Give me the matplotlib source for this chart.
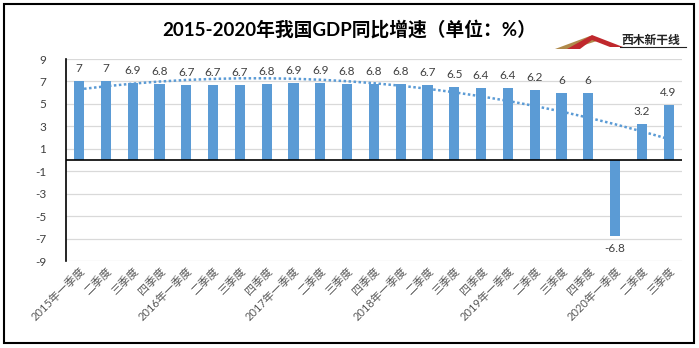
import matplotlib
matplotlib.use("Agg")
import matplotlib.pyplot as plt
from matplotlib.patches import Polygon, Rectangle
from matplotlib.lines import Line2D
import numpy as np

plt.rcParams['font.family'] = ['Lato', 'Noto Sans CJK SC', 'DejaVu Sans']

title = '2015-2020年我国GDP同比增速（单位：%）'
quarters = ['一季度', '二季度', '三季度', '四季度']
years = ['2015', '2016', '2017', '2018', '2019', '2020']
labels = []
for y in years:
    for i, q in enumerate(quarters):
        labels.append(y + '年' + q if i == 0 else q)
labels = labels[:23]
growth = [7, 7, 6.9, 6.8, 6.7, 6.7, 6.7, 6.8, 6.9, 6.9, 6.8, 6.8,
          6.8, 6.7, 6.5, 6.4, 6.4, 6.2, 6, 6, -6.8, 3.2, 4.9]
yticks = [9, 7, 5, 3, 1, -1, -3, -5, -7, -9]

W, H = 699, 348
fig = plt.figure(figsize=(W / 100, H / 100), dpi=100)
ax = fig.add_axes([65.7 / W, 1 - 261 / H, (682 - 65.7) / W, (261 - 59) / H])

x = np.arange(len(growth))
bars = ax.bar(x, growth, width=0.38, color='#5B9BD5', zorder=3)

# excel-style polynomial trendline (order 2)
coef = np.polyfit(x + 1, growth, 2)
ax.plot(x, np.polyval(coef, x + 1), ls=(0, (1, 1)), color='#5B9BD5', lw=1.8, zorder=2)

for xi, v in zip(x, growth):
    txt = ('%g' % v)
    if v >= 0:
        ax.annotate(txt, (xi, v), xytext=(0, 5), textcoords='offset points',
                    ha='center', va='bottom', fontsize=8.5, color='#404040')
    else:
        ax.annotate(txt, (xi, v), xytext=(0, -5), textcoords='offset points',
                    ha='center', va='top', fontsize=8.5, color='#404040')

ax.set_ylim(-9, 9)
ax.set_xlim(-0.5, len(growth) - 0.5)
ax.set_yticks(yticks)
ax.set_yticklabels([str(t) for t in yticks], fontsize=8.5, color='#404040')
ax.yaxis.grid(True, color='#D9D9D9', lw=0.9, zorder=0)
ax.set_axisbelow(True)
ax.axhline(0, color='black', lw=1.2, zorder=4)
ax.tick_params(axis='y', length=0, pad=14)
ax.tick_params(axis='x', length=0, pad=3)
ax.set_xticks(x)
ax.set_xticklabels(labels, rotation=45, ha='right', rotation_mode='anchor',
                   fontsize=8, color='#595959')
for s in ['top', 'right', 'bottom']:
    ax.spines[s].set_visible(False)
ax.spines['left'].set_color('black')
ax.spines['left'].set_linewidth(1.2)

fig.text(349 / W, 1 - 29 / H, title, ha='center', va='center',
         fontsize=13.5, fontweight='bold', color='black')

# chart border
fig.patches.append(Rectangle((3.5 / W, 1 - 343 / H), (694 - 3.5) / W, (343 - 3.5) / H,
                             transform=fig.transFigure, fill=False,
                             edgecolor='black', lw=1.5))

# logo
def px(pts):
    return [(a / W, 1 - b / H) for a, b in pts]

fig.patches.append(Polygon(px([(555, 49), (590, 36), (600, 40), (572, 49)]),
                           closed=True, transform=fig.transFigure,
                           facecolor='#B08A4A', edgecolor='none'))
fig.patches.append(Polygon(px([(567, 49), (592, 35), (623, 47), (610, 47), (592, 40), (580, 49)]),
                           closed=True, transform=fig.transFigure,
                           facecolor='#C0282D', edgecolor='none'))
fig.text(651 / W, 1 - 40 / H, '西木新干线', ha='center', va='center',
         fontsize=8.5, fontweight='bold', color='#222222')
fig.lines.append(Line2D([620 / W, 686 / W], [1 - 47 / H, 1 - 47 / H],
                        transform=fig.transFigure, color='#222222', lw=0.8))

fig.savefig('out.png', dpi=100)
